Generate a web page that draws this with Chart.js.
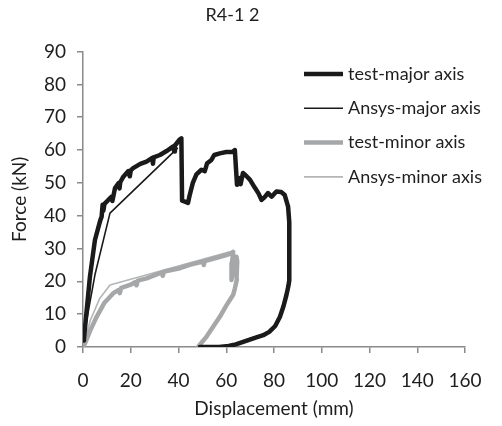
<!DOCTYPE html>
<html lang="en">
<head>
    <meta charset="UTF-8">
    <title>R4-1 2</title>
    <script src="https://cdn.jsdelivr.net/npm/chart.js"></script>
    <style>
        html, body { margin: 0; padding: 0; background: #fff; }
        #wrap { width: 502px; height: 426px; }
    </style>
</head>
<body>
    <div id="wrap"><canvas id="forceChart" width="502" height="426"></canvas></div>

    <script>
        // series names
        const seriesNames = ['test-major axis', 'Ansys-major axis', 'test-minor axis', 'Ansys-minor axis'];

        // axis ticks
        const xTicks = [0, 20, 40, 60, 80, 100, 120, 140, 160];
        const yTicks = [0, 10, 20, 30, 40, 50, 60, 70, 80, 90];

        // test - major axis (displacement mm / force kN)
        const testMajorX = [0, 0.4, 2.9, 5, 7.2, 7.8, 8.2, 8.5, 9, 10.6, 12, 12.3, 13.4, 15, 15.3, 15.6, 16.9, 19, 19.6, 20, 21, 24, 26.6, 29, 29.3, 29.6, 32.2, 35, 37.8, 38.2, 38.5, 40.6, 41.2, 41.5, 42.7, 44, 44.6, 46, 47.5, 49.6, 51, 52, 53.8, 55, 57.3, 60, 62.8, 63.6, 64.5, 65.2, 66, 67, 68, 69.9, 72, 73.5, 74.8, 76, 77.5, 79, 81, 83, 84.5, 85.9, 86.4, 86.4, 86, 85.2, 84, 82.5, 80.5, 78, 75.5, 72, 68, 64, 61, 57, 52, 49];
        const testMajorY = [2, 2.6, 21.4, 32.6, 38.5, 39.7, 43.3, 41.5, 43.6, 44.8, 45.8, 44.5, 48.4, 50, 48.3, 50.2, 51.9, 53.6, 52, 53.8, 54.5, 55.8, 56.5, 57.6, 55.8, 57.8, 58.5, 59.7, 61.1, 59.6, 61.4, 63.3, 63.6, 44.6, 44.3, 43.9, 46, 50, 52.6, 54, 53.6, 56, 57, 58.5, 59, 59.4, 59.5, 60, 49.4, 51.5, 49.6, 53, 52.4, 51, 48.5, 46.8, 44.8, 45.6, 46.9, 45.8, 47.4, 47.2, 46.3, 42.8, 38, 20.3, 18.5, 15.8, 12.5, 9.2, 6.4, 4.6, 3.6, 2.8, 1.8, 0.8, 0.3, 0, 0, 0];

        // Ansys - major axis
        const ansysMajorX = [0, 5, 11.3, 39.5];
        const ansysMajorY = [2, 22, 40.8, 60.5];

        // test - minor axis
        const testMinorX = [0, 0.8, 3, 5.7, 9, 12.7, 15, 15.4, 16, 19.7, 22, 22.4, 23, 26.6, 33, 33.4, 34, 40.6, 45, 50.3, 50.6, 51, 56, 60, 62, 62.9, 62.4, 62.2, 63, 63.6, 63.4, 64.3, 64.6, 64.3, 64.4, 63.6, 62.9, 60, 57.3, 54.5, 51.7, 49.5, 48.2];
        const testMinorY = [0, 1, 5, 9.2, 13.5, 16.4, 17.4, 16.4, 18, 18.9, 19.8, 18.8, 20.2, 20.9, 22.7, 21.7, 23, 24, 25.1, 26, 25, 26.2, 27.2, 28, 28.5, 29, 25.5, 20.4, 27, 22, 27.5, 27.5, 26, 21, 20.4, 17.8, 15.9, 12.6, 9.2, 6.2, 3.1, 1.2, 0];

        // Ansys - minor axis
        const ansysMinorX = [0, 3, 7, 11.3, 61.5];
        const ansysMinorY = [0, 8, 14.8, 18.9, 29];

        const toPoints = (xs, ys) => xs.map((x, i) => ({ x: x, y: ys[i] }));

        const legendPlugin = {
            id: 'sideLegend',
            afterDraw(chart) {
                const ctx = chart.ctx;
                ctx.save();
                chart.data.datasets.forEach((ds, i) => {
                    const y = 74 + i * 34.3;
                    ctx.strokeStyle = ds.borderColor;
                    ctx.lineWidth = ds.borderWidth;
                    ctx.beginPath();
                    ctx.moveTo(304, y);
                    ctx.lineTo(343, y);
                    ctx.stroke();
                    ctx.fillStyle = '#1e1e1e';
                    ctx.font = "18px Lato, sans-serif";
                    ctx.textBaseline = 'middle';
                    ctx.fillText(ds.label, 348, y);
                });
                ctx.restore();
            }
        };

        const axisGrey = '#8a8a8a';
        const ctx = document.getElementById('forceChart').getContext('2d');
        const forceChart = new Chart(ctx, {
            type: 'scatter',
            data: {
                datasets: [
                    { label: seriesNames[0], data: toPoints(testMajorX, testMajorY), borderColor: '#1a1a1a', borderWidth: 4.5 },
                    { label: seriesNames[1], data: toPoints(ansysMajorX, ansysMajorY), borderColor: '#1a1a1a', borderWidth: 1.6 },
                    { label: seriesNames[2], data: toPoints(testMinorX, testMinorY), borderColor: '#a5a7a9', borderWidth: 4.5 },
                    { label: seriesNames[3], data: toPoints(ansysMinorX, ansysMinorY), borderColor: '#b3b5b7', borderWidth: 1.6 }
                ].map(ds => Object.assign(ds, { showLine: true, pointRadius: 0, fill: false, tension: 0, borderJoinStyle: 'round', borderCapStyle: 'round' }))
            },
            options: {
                responsive: false,
                animation: false,
                layout: { padding: { left: 0, right: 37, top: 0, bottom: 0 } },
                plugins: {
                    legend: { display: false },
                    tooltip: { enabled: false },
                    title: {
                        display: true,
                        text: 'R4-1 2',
                        color: '#1e1e1e',
                        font: { family: 'Lato, sans-serif', size: 18, weight: 'normal' },
                        padding: { top: 4, bottom: 26 }
                    }
                },
                scales: {
                    x: {
                        type: 'linear',
                        min: 0,
                        max: 160,
                        afterFit(scale) { scale.height = 79; },
                        afterBuildTicks(scale) { scale.ticks = xTicks.map(v => ({ value: v })); },
                        border: { color: axisGrey, width: 1.5 },
                        grid: { drawOnChartArea: false, drawTicks: true, tickLength: 6, color: axisGrey, lineWidth: 1.5 },
                        ticks: { color: '#1e1e1e', padding: 16, maxRotation: 0, font: { family: 'Lato, sans-serif', size: 19 } },
                        title: {
                            display: true,
                            text: 'Displacement (mm)',
                            color: '#1e1e1e',
                            font: { family: 'Lato, sans-serif', size: 19 },
                            padding: { top: 0, bottom: 6 }
                        }
                    },
                    y: {
                        type: 'linear',
                        min: 0,
                        max: 90,
                        afterFit(scale) { scale.width = 83; },
                        afterBuildTicks(scale) { scale.ticks = yTicks.map(v => ({ value: v })); },
                        border: { color: axisGrey, width: 1.5 },
                        grid: { drawOnChartArea: false, drawTicks: true, tickLength: 6, color: axisGrey, lineWidth: 1.5 },
                        ticks: { color: '#1e1e1e', padding: 11, font: { family: 'Lato, sans-serif', size: 19 } },
                        title: {
                            display: true,
                            text: 'Force (kN)',
                            color: '#1e1e1e',
                            font: { family: 'Lato, sans-serif', size: 19 },
                            padding: { top: 8, bottom: 0 }
                        }
                    }
                }
            },
            plugins: [legendPlugin]
        });
    </script>
</body>
</html>
